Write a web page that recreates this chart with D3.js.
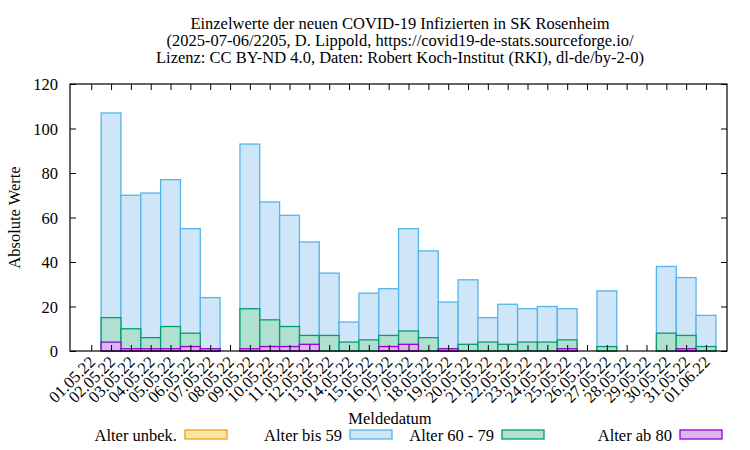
<!DOCTYPE html>
<html><head><meta charset="utf-8">
<script src="https://cdn.jsdelivr.net/npm/d3@7"></script>
<style>body{margin:0;background:#fff}text{font-family:"Liberation Serif","DejaVu Serif",serif;fill:#000}</style>
</head><body><svg id="c" width="750" height="450"></svg>
<script>
const dates=["01.05.22","02.05.22","03.05.22","04.05.22","05.05.22","06.05.22","07.05.22","08.05.22","09.05.22","10.05.22","11.05.22","12.05.22","13.05.22","14.05.22","15.05.22","16.05.22","17.05.22","18.05.22","19.05.22","20.05.22","21.05.22","22.05.22","23.05.22","24.05.22","25.05.22","26.05.22","27.05.22","28.05.22","29.05.22","30.05.22","31.05.22","01.06.22"];
// cumulative heights as drawn
const totalAll=[0,107,70,71,77,55,24,0,93,67,61,49,35,13,26,28,55,45,22,32,15,21,19,20,19,0,27,0,0,38,33,16];
const age60plus=[0,15,10,6,11,8,1,0,19,14,11,7,7,4,5,7,9,6,1,3,4,3,4,4,5,0,2,0,0,8,7,2];
const age80plus=[0,4,1,1,1,2,1,0,1,2,2,3,0,0,0,2,3,0,1,0,0,0,0,0,1,0,0,0,0,0,1,0];
const yTicks=[0,20,40,60,80,100,120];
const titleLines=["Einzelwerte der neuen COVID-19 Infizierten in SK Rosenheim","(2025-07-06/2205, D. Lippold, https://covid19-de-stats.sourceforge.io/","Lizenz: CC BY-ND 4.0, Daten: Robert Koch-Institut (RKI), dl-de/by-2-0)"];
const legend=[{t:"Alter unbek.",f:"#fde4a5",s:"#e8a317"},{t:"Alter bis 59",f:"#cfe6f8",s:"#56b4e9"},{t:"Alter 60 - 79",f:"#b0e0d0",s:"#009e73"},{t:"Alter ab 80",f:"#dcb6f0",s:"#9400d3"}];

const FS=16.5;
const svg=d3.select("#c");
const L=70,R=727,T=84,B=351;
const x=d3.scaleLinear().domain([-1.07,32.06]).range([L,R]);
const y=d3.scaleLinear().domain([0,120]).range([B,T]);
const bw=x(1)-x(0);

titleLines.forEach((t,i)=>svg.append("text").attr("x",400).attr("y",29+i*17).attr("text-anchor","middle").attr("font-size",FS).text(t));

function series(vals,fill,stroke){
  svg.append("g").selectAll("rect").data(vals.map((v,i)=>[i,v]).filter(d=>d[1]>0)).join("rect")
   .attr("x",d=>x(d[0])-bw/2).attr("width",bw).attr("y",d=>y(d[1])).attr("height",d=>B-y(d[1]))
   .attr("fill",fill).attr("stroke",stroke).attr("stroke-width",1.3);
}
series(totalAll,legend[1].f,legend[1].s);
series(age60plus,legend[2].f,legend[2].s);
series(age80plus,legend[3].f,legend[3].s);

svg.append("rect").attr("x",L).attr("y",T).attr("width",R-L).attr("height",B-T).attr("fill","none").attr("stroke","#000").attr("stroke-width",1.2);
const idx=d3.range(dates.length);
svg.append("g").attr("transform",`translate(0,${B})`).call(d3.axisBottom(x).tickValues(idx).tickSize(-6).tickFormat(""))
 .call(g=>g.select(".domain").remove());
svg.append("g").attr("transform",`translate(0,${T})`).call(d3.axisTop(x).tickValues(idx).tickSize(-6).tickFormat(""))
 .call(g=>g.select(".domain").remove());
svg.append("g").attr("transform",`translate(${L},0)`).call(d3.axisLeft(y).tickValues(yTicks).tickSize(-6).tickPadding(12))
 .call(g=>{g.select(".domain").remove();g.selectAll("text").attr("font-size",FS).attr("dy","0.35em").style("font-family","Liberation Serif");});
svg.append("g").attr("transform",`translate(${R},0)`).call(d3.axisRight(y).tickValues(yTicks).tickSize(-6).tickFormat(""))
 .call(g=>g.select(".domain").remove());
svg.selectAll(".tick line").attr("stroke","#000");
svg.append("g").selectAll("text").data(dates).join("text")
 .attr("transform",(d,i)=>`translate(${x(i)+5},${B+12}) rotate(-45)`).attr("text-anchor","end").attr("font-size",FS).text(d=>d);

svg.append("text").attr("transform",`translate(20,${(T+B)/2}) rotate(-90)`).attr("text-anchor","middle").attr("font-size",FS).text("Absolute Werte");
svg.append("text").attr("x",390).attr("y",424).attr("text-anchor","middle").attr("font-size",FS).text("Meldedatum");

const lx=[185,350,502,680];
legend.forEach((l,i)=>{
  svg.append("rect").attr("x",lx[i]).attr("y",430).attr("width",42).attr("height",9).attr("fill",l.f).attr("stroke",l.s).attr("stroke-width",1.3);
  svg.append("text").attr("x",lx[i]-8).attr("y",441).attr("text-anchor","end").attr("font-size",FS).text(l.t);
});
</script></body></html>
